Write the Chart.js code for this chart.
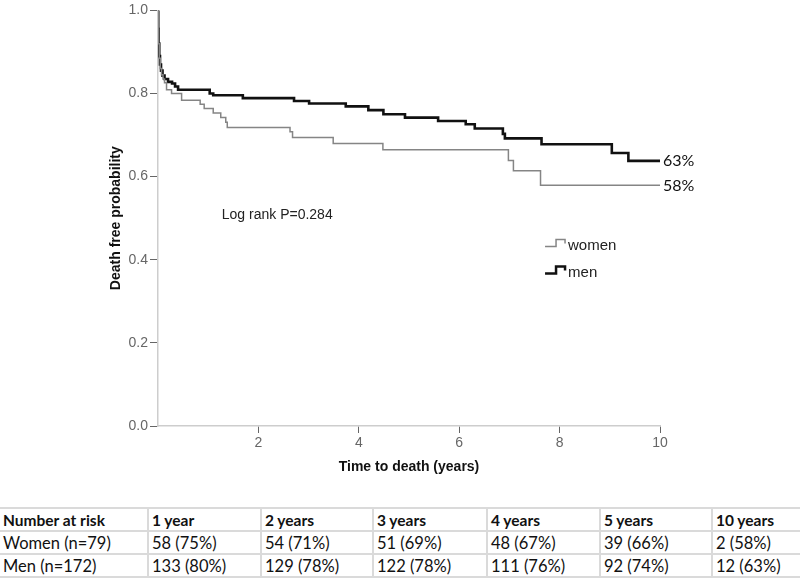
<!DOCTYPE html>
<html>
<head>
<meta charset="utf-8">
<script src="https://cdn.jsdelivr.net/npm/chart.js@4.4.1/dist/chart.umd.min.js"></script>
<style>
  html, body { margin: 0; padding: 0; background: #fff; }
  #wrap { position: relative; width: 800px; height: 507px; }
  table.risk {
    border-collapse: collapse;
    table-layout: fixed;
    width: 800px;
    font-family: Lato, 'Noto Sans', sans-serif;
    font-size: 16.5px;
    color: #111;
  }
  table.risk td {
    border: 2px solid #dadada;
    height: 21px;
    padding: 0 0 0 3px;
    white-space: nowrap;
    overflow: hidden;
  }
  table.risk tr td:first-child { border-left: none; }
  table.risk tr td:last-child { border-right: none; }
  table.risk tr.head td { font-weight: bold; font-size: 15.5px; }
</style>
</head>
<body>
<div id="wrap"><canvas id="km"></canvas></div>
<table class="risk" id="riskTable">
  <colgroup>
    <col style="width:148px"><col style="width:113px"><col style="width:112px">
    <col style="width:114px"><col style="width:113px"><col style="width:112px"><col>
  </colgroup>
  <tbody id="riskBody"></tbody>
</table>
<script>
// Kaplan-Meier: death free probability, women vs men

// ── DATA ─────────────────────────────────────────
const menTimes = [0, 0.005, 0.012, 0.025, 0.04, 0.06, 0.09, 0.13, 0.2, 0.28, 0.34, 0.40,
  1.03, 1.10, 1.69, 2.71, 3.01, 3.74, 4.19, 4.49, 4.92, 5.58, 6.13, 6.31, 6.87, 6.91,
  7.64, 9.04, 9.37, 10];
const menSurv = [1.0, 0.955, 0.92, 0.89, 0.87, 0.855, 0.843, 0.835, 0.828, 0.824, 0.817, 0.809,
  0.800, 0.796, 0.789, 0.782, 0.776, 0.769, 0.760, 0.750, 0.742, 0.734, 0.726, 0.716, 0.703, 0.692,
  0.678, 0.657, 0.638, 0.638];

const womenTimes = [0, 0.005, 0.012, 0.025, 0.045, 0.07, 0.1, 0.13, 0.17, 0.27, 0.47, 0.84,
  0.92, 1.10, 1.25, 1.35, 1.38, 2.63, 2.68, 3.49, 4.48, 6.98, 7.08, 7.62, 10];
const womenSurv = [1.0, 0.955, 0.92, 0.885, 0.86, 0.845, 0.835, 0.826, 0.809, 0.800, 0.784, 0.774,
  0.764, 0.753, 0.742, 0.731, 0.718, 0.708, 0.694, 0.680, 0.665, 0.639, 0.614, 0.579, 0.579];

const seriesLabels = ['women', 'men'];
const endLabels    = ['58%', '63%'];
const logRankText  = 'Log rank P=0.284';

const riskHeader = ['Number at risk', '1 year', '2 years', '3 years', '4 years', '5 years', '10 years'];
const riskWomen  = ['Women (n=79)', '58 (75%)', '54 (71%)', '51 (69%)', '48 (67%)', '39 (66%)', '2 (58%)'];
const riskMen    = ['Men (n=172)', '133 (80%)', '129 (78%)', '122 (78%)', '111 (76%)', '92 (74%)', '12 (63%)'];

const WOMEN_COLOR = '#858585';
const MEN_COLOR   = '#111111';

function toPoints(ts, ss) {
  return ts.map((t, i) => ({ x: t, y: ss[i] }));
}

// ── ANNOTATIONS (end labels, log rank, legend) ───
const kmAnnotations = {
  id: 'kmAnnotations',
  afterDatasetsDraw(chart) {
    const { ctx, scales: { x, y } } = chart;
    ctx.save();

    // end-of-curve percentages
    ctx.font = '16px Lato, "Noto Sans", sans-serif';
    ctx.fillStyle = '#111';
    ctx.textBaseline = 'middle';
    ctx.textAlign = 'left';
    ctx.fillText(endLabels[0], x.getPixelForValue(10) + 3, y.getPixelForValue(womenSurv[womenSurv.length - 1]));
    ctx.fillText(endLabels[1], x.getPixelForValue(10) + 3, y.getPixelForValue(menSurv[menSurv.length - 1]));

    // log rank text
    ctx.font = '14px "Liberation Sans", Arial, sans-serif';
    ctx.fillStyle = '#222';
    ctx.fillText(logRankText, x.getPixelForValue(1.27), y.getPixelForValue(0.507));

    // legend with step glyphs
    const gx = x.getPixelForValue(7.71);
    const rows = [
      { label: seriesLabels[0], color: WOMEN_COLOR, width: 1.5, yc: y.getPixelForValue(0.437) },
      { label: seriesLabels[1], color: MEN_COLOR,   width: 2.5, yc: y.getPixelForValue(0.372) }
    ];
    ctx.font = '15px "Liberation Sans", Arial, sans-serif';
    rows.forEach(r => {
      ctx.strokeStyle = r.color;
      ctx.lineWidth = r.width;
      ctx.beginPath();
      ctx.moveTo(gx, r.yc + 2);
      ctx.lineTo(gx + 11, r.yc + 2);
      ctx.lineTo(gx + 11, r.yc - 5);
      ctx.lineTo(gx + 20, r.yc - 5);
      ctx.lineTo(gx + 20, r.yc - 1);
      ctx.stroke();
      ctx.fillStyle = '#222';
      ctx.fillText(r.label, gx + 23, r.yc + 1);
    });

    ctx.restore();
  }
};

// ── CHART ────────────────────────────────────────
const tickFont = { family: "'Liberation Sans', Arial, sans-serif", size: 14 };
const titleFont = { family: "'Liberation Sans', Arial, sans-serif", size: 14, weight: 'bold' };

new Chart(document.getElementById('km'), {
  type: 'line',
  data: {
    datasets: [
      {
        label: seriesLabels[0],
        data: toPoints(womenTimes, womenSurv),
        borderColor: WOMEN_COLOR,
        borderWidth: 1.5,
        stepped: 'before',
        pointRadius: 0,
        fill: false
      },
      {
        label: seriesLabels[1],
        data: toPoints(menTimes, menSurv),
        borderColor: MEN_COLOR,
        borderWidth: 2.6,
        stepped: 'before',
        pointRadius: 0,
        fill: false
      }
    ]
  },
  options: {
    responsive: true,
    maintainAspectRatio: false,
    animation: false,
    devicePixelRatio: 1,
    layout: { padding: { top: 10, right: 140, bottom: 0, left: 0 } },
    plugins: { legend: { display: false }, tooltip: { enabled: false } },
    scales: {
      x: {
        type: 'linear',
        min: 0,
        max: 10,
        afterFit: s => { s.height = 81; },
        ticks: {
          stepSize: 2,
          color: '#666',
          font: tickFont,
          padding: 2,
          maxRotation: 0,
          callback: v => (v === 0 ? '' : v)
        },
        grid: {
          drawOnChartArea: false,
          tickLength: 7,
          tickColor: c => (c.tick && c.tick.value === 0 ? 'rgba(0,0,0,0)' : '#666')
        },
        border: { color: '#cdcdcd', width: 1.5 },
        title: {
          display: true,
          text: 'Time to death (years)',
          color: '#111',
          font: titleFont,
          padding: { top: 0, bottom: 31 }
        }
      },
      y: {
        min: 0,
        max: 1,
        afterFit: s => { s.width = 158; },
        ticks: {
          stepSize: 0.2,
          color: '#666',
          font: tickFont,
          padding: 2,
          callback: v => v.toFixed(1)
        },
        grid: { drawOnChartArea: false, tickLength: 8, tickColor: '#666' },
        border: { color: '#cdcdcd', width: 1.5 },
        title: {
          display: true,
          text: 'Death free probability',
          color: '#111',
          font: titleFont,
          padding: { top: 108, bottom: 0 }
        }
      }
    }
  },
  plugins: [kmAnnotations]
});

// ── RISK TABLE ───────────────────────────────────
function renderRiskTable() {
  const body = document.getElementById('riskBody');
  const row = (cells, cls) =>
    `<tr class="${cls}">${cells.map(c => `<td>${c}</td>`).join('')}</tr>`;
  body.innerHTML = row(riskHeader, 'head') + row(riskWomen, '') + row(riskMen, '');
}
renderRiskTable();
</script>
</body>
</html>
